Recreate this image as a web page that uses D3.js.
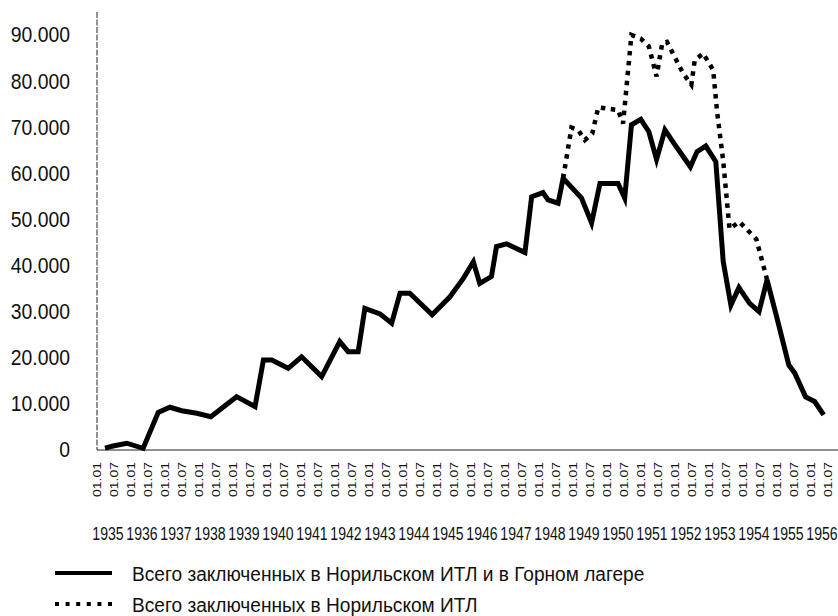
<!DOCTYPE html>
<html>
<head>
<meta charset="utf-8">
<script src="https://cdn.jsdelivr.net/npm/d3@7"></script>
<style>
	body { margin: 0; background: #fff; }
	svg { display: block; }
	text { font-family: 'Liberation Sans', Arial, sans-serif; fill: #111; }
</style>
</head>
<body>
<svg id="norilsk" width="838" height="616" viewBox="0 0 838 616"></svg>
<script>

// Всего заключенных в Норильском ИТЛ и в Горном лагере (decimal year, people)
const total_dates = [
	1935.00, 1935.24, 1935.65, 1936.14, 1936.59, 1936.94, 1937.29, 1937.74, 1938.16, 1938.93,
	1939.48, 1939.73, 1939.98, 1940.47, 1940.87, 1941.47, 1942.01, 1942.26, 1942.56, 1942.76,
	1943.21, 1943.56, 1943.81, 1944.10, 1944.77, 1945.30, 1945.70, 1946.00, 1946.19, 1946.54,
	1946.69, 1946.99, 1947.54, 1947.74, 1948.08, 1948.23, 1948.53, 1948.68, 1949.23, 1949.53,
	1949.78, 1950.32, 1950.52, 1950.72, 1951.00, 1951.24, 1951.47, 1951.72, 1951.99, 1952.48,
	1952.68, 1952.94, 1953.24, 1953.46, 1953.69, 1953.93, 1954.25, 1954.53, 1954.77, 1955.07,
	1955.42, 1955.60, 1955.92, 1956.19, 1956.46
];
const total_values = [
	200, 650, 1250, 150, 7950, 9050, 8300, 7750, 7000, 11350,
	9200, 19300, 19300, 17500, 20000, 15700, 23300, 21100, 21100, 30500,
	29300, 27300, 33800, 33800, 29100, 33000, 37000, 40600, 35900, 37400,
	43900, 44500, 42600, 54700, 55600, 54000, 53300, 58700, 54400, 49000,
	57600, 57600, 54400, 70300, 71500, 68800, 62800, 69200, 66300, 61200,
	64500, 65700, 62300, 40700, 31200, 35000, 31600, 29800, 36700, 28300,
	18200, 16400, 11300, 10300, 7400
];

// Всего заключенных в Норильском ИТЛ
const itl_dates = [
	1948.68, 1948.93, 1949.13, 1949.33, 1949.55, 1949.73, 1950.32, 1950.47, 1950.72, 1951.00,
	1951.24, 1951.47, 1951.64, 1951.78, 1952.26, 1952.51, 1952.61, 1952.86, 1953.16, 1953.28,
	1953.46, 1953.65, 1953.94, 1954.45, 1954.77
];
const itl_values = [
	58700, 69700, 69200, 67000, 68400, 74100, 73500, 70600, 89800, 89000,
	87300, 80800, 88000, 88300, 81500, 79000, 84300, 85800, 82200, 73000,
	62500, 47700, 49300, 45500, 36700
];

const y_ticks = [0, 10000, 20000, 30000, 40000, 50000, 60000, 70000, 80000, 90000];
const years = [1935, 1936, 1937, 1938, 1939, 1940, 1941, 1942, 1943, 1944, 1945,
	1946, 1947, 1948, 1949, 1950, 1951, 1952, 1953, 1954, 1955, 1956];
const half_labels = ["01.01", "01.07"];
const legend_labels = [
	"Всего заключенных в Норильском ИТЛ и в Горном лагере",
	"Всего заключенных в Норильском ИТЛ"
];

class NorilskChart {

	constructor(svg_element_id) {
		this.svg = d3.select('#' + svg_element_id);

		// data positions and axis label positions are a little apart in the original
		this.x = d3.scaleLinear()
			.domain([1935, 1956.5])
			.range([105, 825]);
		this.x_labels = d3.scaleLinear()
			.domain([1935, 1956.5])
			.range([97, 828]);
		this.y = d3.scaleLinear()
			.domain([0, 90000])
			.range([449, 34]);

		this.drawAxes();
		this.drawLines();
		this.drawLegend();
	}

	drawAxes() {
		const y = this.y;

		// frame lines
		this.svg.append("line")
			.attr("x1", 97).attr("x2", 97)
			.attr("y1", 12).attr("y2", y(0) + 1)
			.attr("stroke", "#222")
			.attr("stroke-width", 1)
			.attr("stroke-dasharray", "6,1.5");
		this.svg.append("line")
			.attr("x1", 97).attr("x2", 838)
			.attr("y1", y(0) + 1).attr("y2", y(0) + 1)
			.attr("stroke", "#222")
			.attr("stroke-width", 1.2);

		// narrow look: the original uses a condensed face, squeeze a normal one
		const fmt = (d) => d === 0 ? "0" : d3.format(",")(d).replace(",", ".");
		this.svg.append("g")
			.attr("transform", "translate(70,0)")
			.call(d3.axisLeft(y).tickValues(y_ticks).tickFormat(fmt).tickSize(0).tickPadding(0))
			.call(g => g.select(".domain").remove())
			.selectAll("text")
				.attr("x", 0)
				.attr("dy", "0.36em")
				.attr("transform", "scale(0.88,1)")
				.style("font-size", "22px")
				.style("font-family", null);

		const half_years = years.flatMap((yr) => [yr, yr + 0.5]);
		this.svg.append("g")
			.attr("transform", "translate(0,462)")
			.call(d3.axisBottom(this.x_labels)
				.tickValues(half_years)
				.tickFormat((d) => half_labels[Math.round((d % 1) * 2)])
				.tickSize(0))
			.call(g => g.select(".domain").remove())
			.selectAll("text")
				.attr("x", 0)
				.attr("y", 0)
				.attr("dy", "0.36em")
				.attr("text-anchor", "end")
				.attr("transform", "rotate(-90) scale(1.27,1)")
				.style("font-size", "11px")
				.style("font-family", null);

		this.svg.append("g")
			.selectAll(".year-label")
			.data(years)
			.enter().append("text")
			.classed("year-label", true)
			.attr("transform", (d) => "translate(" + (this.x_labels(d) + 11) + ",540) scale(0.76,1)")
			.attr("text-anchor", "middle")
			.style("font-size", "18.5px")
			.text((d) => d);
	}

	drawLines() {
		const line = d3.line()
			.x((d) => this.x(d[0]))
			.y((d) => this.y(d[1]));

		this.svg.append("path")
			.datum(d3.zip(itl_dates, itl_values))
			.attr("d", line)
			.attr("fill", "none")
			.attr("stroke", "#000")
			.attr("stroke-width", 4.5)
			.attr("stroke-dasharray", "4.5,5.5");

		this.svg.append("path")
			.datum(d3.zip(total_dates, total_values))
			.attr("d", line)
			.attr("fill", "none")
			.attr("stroke", "#000")
			.attr("stroke-width", 5)
			.attr("stroke-linejoin", "miter");
	}

	drawLegend() {
		const rows = this.svg.append("g")
			.selectAll(".legend-row")
			.data(legend_labels)
			.enter().append("g")
			.classed("legend-row", true)
			.attr("transform", (d, i) => "translate(0," + (573 + i * 31) + ")");

		rows.append("line")
			.attr("x1", 55).attr("x2", 112)
			.attr("stroke", "#000")
			.attr("stroke-width", 4)
			.attr("stroke-dasharray", (d, i) => i === 0 ? null : "4,6.6");

		rows.append("text")
			.attr("transform", "translate(132,0) scale(0.91,1)")
			.attr("dy", "0.36em")
			.style("font-size", "21px")
			.text((d) => d);
	}
}

function whenDocumentLoaded(action) {
	if (document.readyState === "loading") {
		document.addEventListener("DOMContentLoaded", action);
	} else {
		action();
	}
}

whenDocumentLoaded(() => {
	plot_object = new NorilskChart('norilsk');
});
</script>
</body>
</html>
